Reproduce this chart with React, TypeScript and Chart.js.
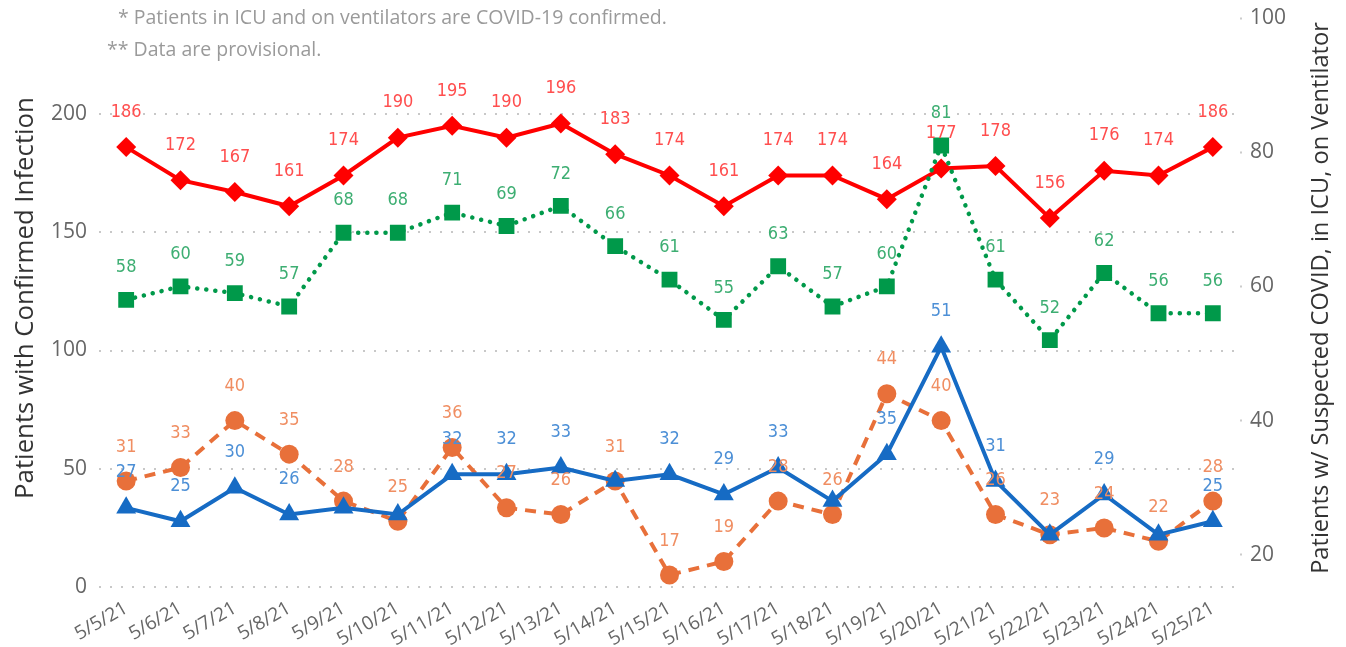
import React, { useEffect, useRef } from 'react';
import { Chart, registerables } from 'chart.js';

Chart.register(...registerables);

const DATES = ['5/5/21', '5/6/21', '5/7/21', '5/8/21', '5/9/21', '5/10/21', '5/11/21', '5/12/21', '5/13/21', '5/14/21', '5/15/21', '5/16/21', '5/17/21', '5/18/21', '5/19/21', '5/20/21', '5/21/21', '5/22/21', '5/23/21', '5/24/21', '5/25/21'];
const CONFIRMED = [186, 172, 167, 161, 174, 190, 195, 190, 196, 183, 174, 161, 174, 174, 164, 177, 178, 156, 176, 174, 186];
const SUSPECTED = [58, 60, 59, 57, 68, 68, 71, 69, 72, 66, 61, 55, 63, 57, 60, 81, 61, 52, 62, 56, 56];
const IN_ICU = [27, 25, 30, 26, 27, 26, 32, 32, 33, 31, 32, 29, 33, 28, 35, 51, 31, 23, 29, 23, 25];
const ON_VENT = [31, 33, 40, 35, 28, 25, 36, 27, 26, 31, 17, 19, 28, 26, 44, 40, 26, 23, 24, 22, 28];
const LEFT_TICKS = [0, 50, 100, 150, 200];
const RIGHT_TICKS = [20, 40, 60, 80, 100];
const IN_ICU_HIDDEN_LABELS = [4, 5, 9, 13, 17, 19];

const LEFT_TITLE = 'Patients with Confirmed Infection';
const RIGHT_TITLE = 'Patients w/ Suspected COVID, in ICU, on Ventilator';
const NOTE_1 = '* Patients in ICU and on ventilators are COVID-19 confirmed.';
const NOTE_2 = '** Data are provisional.';

const UI_FONT = '"Open Sans", "Noto Sans", sans-serif';
const RED = '#FF0000';
const GREEN = '#00994A';
const BLUE = '#166BC4';
const ORANGE = '#E8703A';

function hasFont(ctx: CanvasRenderingContext2D, family: string) {
  const probe = '1234567890abcdefWMil';
  ctx.font = '40px monospace';
  const a = ctx.measureText(probe).width;
  ctx.font = `40px "${family}", monospace`;
  const b = ctx.measureText(probe).width;
  return Math.abs(a - b) > 0.5;
}

function fitSize(ctx: CanvasRenderingContext2D, text: string, family: string, target: number) {
  ctx.font = `40px ${family}`;
  const w = ctx.measureText(text).width;
  return (40 * target) / w;
}

const overlayPlugin = {
  id: 'overlay',
  afterDatasetsDraw(chart: any) {
    const ctx: CanvasRenderingContext2D = chart.ctx;
    const candidates = ['Liberation Sans Narrow', 'DejaVu Sans Condensed', 'Roboto Condensed', 'Roboto'];
    let fam = 'Roboto';
    for (const c of candidates) {
      if (hasFont(ctx, c)) { fam = c; break; }
    }
    const family = `"${fam}", sans-serif`;
    const size = 18;
    const specs = [
      { idx: 0, color: '#FF4E4E', offset: 35, hidden: [] as number[] },
      { idx: 1, color: '#3DAE72', offset: 32, hidden: [] as number[] },
      { idx: 3, color: '#F08E62', offset: 34, hidden: [] as number[] },
      { idx: 2, color: '#4C8FD6', offset: 35, hidden: IN_ICU_HIDDEN_LABELS },
    ];
    ctx.save();
    ctx.font = `${size}px ${family}`;
    ctx.textAlign = 'center';
    ctx.textBaseline = 'middle';
    for (const s of specs) {
      const meta = chart.getDatasetMeta(s.idx);
      const data = chart.data.datasets[s.idx].data as number[];
      ctx.fillStyle = s.color;
      meta.data.forEach((pt: any, i: number) => {
        if (s.hidden.includes(i)) return;
        ctx.fillText(String(data[i]), pt.x, pt.y - s.offset);
      });
    }
    ctx.restore();
  },
  afterDraw(chart: any) {
    const ctx: CanvasRenderingContext2D = chart.ctx;
    ctx.save();
    const noteSize = fitSize(ctx, NOTE_1, UI_FONT, 549);
    ctx.font = `${noteSize}px ${UI_FONT}`;
    ctx.fillStyle = '#9A9A9A';
    ctx.textAlign = 'left';
    ctx.textBaseline = 'middle';
    ctx.fillText(NOTE_1, 118, 18);
    ctx.fillText(NOTE_2, 107, 50);
    const cy = 298;
    const lSize = fitSize(ctx, LEFT_TITLE, UI_FONT, 402);
    ctx.fillStyle = '#333333';
    ctx.textAlign = 'center';
    ctx.textBaseline = 'alphabetic';
    ctx.save();
    ctx.translate(33, cy);
    ctx.rotate(-Math.PI / 2);
    ctx.font = `${lSize}px ${UI_FONT}`;
    ctx.fillText(LEFT_TITLE, 0, 0);
    ctx.restore();
    const rSize = fitSize(ctx, RIGHT_TITLE, UI_FONT, 552);
    ctx.save();
    ctx.translate(1328, cy);
    ctx.rotate(-Math.PI / 2);
    ctx.font = `${rSize}px ${UI_FONT}`;
    ctx.fillText(RIGHT_TITLE, 0, 0);
    ctx.restore();
    ctx.restore();
  },
};

export default function App() {
  const ref = useRef<HTMLCanvasElement | null>(null);
  useEffect(() => {
    if (!ref.current) return;
    const chart = new Chart(ref.current, {
      type: 'line',
      data: {
        labels: DATES,
        datasets: [
          {
            label: 'Confirmed',
            data: CONFIRMED,
            yAxisID: 'y',
            borderColor: RED,
            backgroundColor: RED,
            borderWidth: 4,
            pointStyle: 'rectRot',
            pointRadius: 10,
            pointBorderWidth: 0,
            pointBackgroundColor: RED,
            order: 3,
          },
          {
            label: 'Suspected',
            data: SUSPECTED,
            yAxisID: 'y1',
            borderColor: GREEN,
            backgroundColor: GREEN,
            borderWidth: 4.5,
            borderDash: [0.1, 9],
            borderCapStyle: 'round',
            pointStyle: 'rect',
            pointRadius: 11.2,
            pointBorderWidth: 0,
            pointBackgroundColor: GREEN,
            order: 2,
          },
          {
            label: 'In ICU',
            data: IN_ICU,
            yAxisID: 'y1',
            borderColor: BLUE,
            backgroundColor: BLUE,
            borderWidth: 4,
            pointStyle: 'triangle',
            pointRadius: 11.5,
            pointBorderWidth: 0,
            pointBackgroundColor: BLUE,
            order: 0,
          },
          {
            label: 'On ventilator',
            data: ON_VENT,
            yAxisID: 'y1',
            borderColor: ORANGE,
            backgroundColor: ORANGE,
            borderWidth: 4,
            borderDash: [11, 8],
            pointStyle: 'circle',
            pointRadius: 9.5,
            pointBorderWidth: 0,
            pointBackgroundColor: ORANGE,
            order: 1,
          },
        ],
      },
      options: {
        animation: false,
        responsive: true,
        maintainAspectRatio: false,
        layout: { padding: { top: 18, left: 0, right: 0, bottom: 0 } },
        plugins: {
          legend: { display: false },
          tooltip: { enabled: false },
        },
        elements: { line: { tension: 0 } },
        scales: {
          x: {
            offset: true,
            grid: { display: false },
            border: { display: false },
            ticks: {
              autoSkip: false,
              minRotation: 30,
              maxRotation: 30,
              color: '#666666',
              padding: 2,
              font: { family: UI_FONT, size: 19 },
            },
            afterFit: (s: any) => { s.height = 60; },
          },
          y: {
            position: 'left',
            min: 0,
            max: 240.6,
            afterBuildTicks: (s: any) => { s.ticks = LEFT_TICKS.map((v) => ({ value: v })); },
            grid: { color: '#C8C8C8', lineWidth: 2, drawTicks: false },
            border: { display: false, dash: [2, 9] },
            ticks: { color: '#666666', padding: 12, font: { family: UI_FONT, size: 21 } },
            afterFit: (s: any) => { s.width = 99; s.paddingTop = 0; s.paddingBottom = 0; },
          },
          y1: {
            position: 'right',
            min: 15.2,
            max: 100,
            afterBuildTicks: (s: any) => { s.ticks = RIGHT_TICKS.map((v) => ({ value: v })); },
            grid: { drawOnChartArea: false, drawTicks: true, tickLength: 2, tickWidth: 2, tickColor: '#CCCCCC' },
            border: { display: false },
            ticks: { color: '#666666', padding: 8, font: { family: UI_FONT, size: 21 } },
            afterFit: (s: any) => { s.width = 106; s.paddingTop = 0; s.paddingBottom = 0; },
          },
        },
      },
      plugins: [overlayPlugin],
    } as any);
    return () => chart.destroy();
  }, []);
  return (
    <div style={{ position: 'fixed', left: 0, top: 0, width: '1346px', height: '647px' }}>
      <canvas ref={ref} />
    </div>
  );
}
